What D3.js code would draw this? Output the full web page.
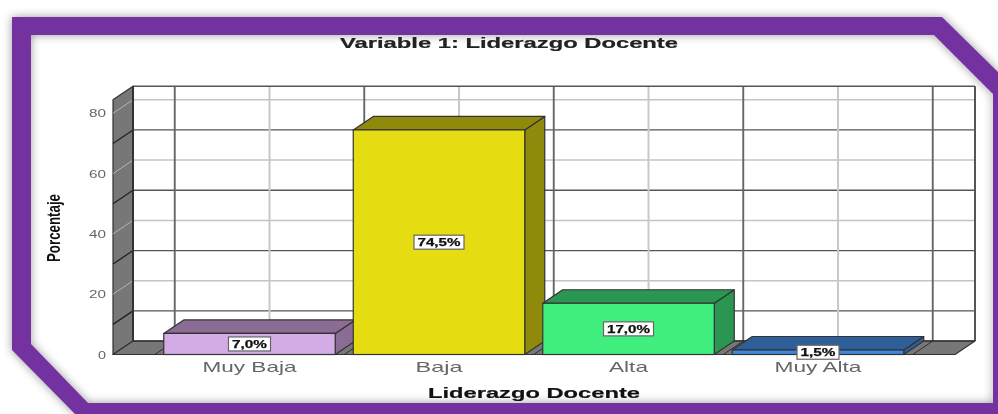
<!DOCTYPE html>
<html><head><meta charset="utf-8">
<script src="https://cdn.jsdelivr.net/npm/d3@7/dist/d3.min.js"></script>
<style>html,body{margin:0;padding:0;background:#fff;overflow:hidden}svg{display:block;filter:blur(.55px)}text{font-family:"Liberation Sans",Arial,sans-serif}</style>
</head><body><svg id="c" width="998" height="414"></svg>
<script>
const categories = ["Muy Baja", "Baja", "Alta", "Muy Alta"];
const values = [7.0, 74.5, 17.0, 1.5];
const valueLabels = ["7,0%", "74,5%", "17,0%", "1,5%"];
const frontColors = ["#D3ACE6", "#E5DC12", "#41EF7E", "#3F86DD"];
const shadeColors = ["#8A6C94", "#8F8A0B", "#2A9652", "#2F5F98"];
const yTicks = [0, 20, 40, 60, 80];
const gridMajor = [10, 30, 50, 70];
const gridMinor = [20, 40, 60, 80];
const title = "Variable 1: Liderazgo Docente";
const xTitle = "Liderazgo Docente";
const yTitle = "Porcentaje";
const tickWidths = [94, 47, 39, 87];

const svg = d3.select("#c");
const defs = svg.append("defs");
const fl = defs.append("filter").attr("id","sh").attr("x","-5%").attr("y","-10%").attr("width","110%").attr("height","120%");
fl.append("feDropShadow").attr("dx",0).attr("dy",0).attr("stdDeviation",5).attr("flood-color","#000").attr("flood-opacity",.4);

// frame
svg.append("path").attr("fill","#7331A0").attr("fill-rule","evenodd").attr("filter","url(#sh)")
  .attr("d","M12,17L942,17L998,72L998,414L75,414L12,350Z M31,35L934,35L993,94L993,403L88,403L31,344Z");

const DX = 20, DY = -13.5;
const y = d3.scaleLinear().domain([0, 80]).range([354.5, 113.3]);
const yMax = 84.5;
const x = d3.scaleBand().domain(categories).range([154.75, 912.75]).paddingInner(.095).paddingOuter(.0475);
const floorL = 113, floorR = 955;
const line = (g,x1,y1,x2,y2,c,w) => g.append("line").attr("x1",x1).attr("y1",y1).attr("x2",x2).attr("y2",y2).attr("stroke",c).attr("stroke-width",w);
const poly = (g,pts,f,s) => g.append("polygon").attr("points",pts.map(p=>p.join(",")).join(" ")).attr("fill",f).attr("stroke",s||"#333").attr("stroke-width",1.2).attr("stroke-linejoin","round");

const back = svg.append("g");
// back wall horizontal grid
gridMinor.forEach(v => line(back,floorL+DX,y(v)+DY,floorR+DX,y(v)+DY,"#c4c4c4",1.5));
gridMajor.forEach(v => line(back,floorL+DX,y(v)+DY,floorR+DX,y(v)+DY,"#555",1.3));
// back wall vertical grid
const step = x.step();
const x0 = x.range()[0];
categories.forEach((c,i) => line(back,x0+step*(i+.5)+DX,y(yMax)+DY,x0+step*(i+.5)+DX,y(0)+DY,"#c8c8c8",2));
d3.range(categories.length+1).forEach(i => line(back,x0+step*i+DX,y(yMax)+DY,x0+step*i+DX,y(0)+DY,"#666",1.9));
// outline of back wall
line(back,floorL+DX,y(yMax)+DY,floorR+DX,y(yMax)+DY,"#555",1.5);
line(back,floorR+DX,y(yMax)+DY,floorR+DX,y(0)+DY,"#555",2);
// left wall
poly(back,[[floorL,y(yMax)],[floorL+DX,y(yMax)+DY],[floorL+DX,y(0)+DY],[floorL,y(0)]],"#777");
gridMinor.forEach(v => line(back,floorL,y(v),floorL+DX,y(v)+DY,"#b5b5b5",1));
gridMajor.forEach(v => line(back,floorL,y(v),floorL+DX,y(v)+DY,"#222",1.3));
line(back,floorL+DX,y(yMax)+DY,floorL+DX,y(0)+DY,"#333",2);
// floor
poly(back,[[floorL,y(0)],[floorL+DX,y(0)+DY],[floorR+DX,y(0)+DY],[floorR,y(0)]],"#777");
line(back,floorL+DX,y(0)+DY,floorR+DX,y(0)+DY,"#333",1.6);
d3.range(categories.length+1).forEach(i => line(back,x0+step*i,y(0),x0+step*i+DX,y(0)+DY,"#2e2e2e",1));
categories.forEach((c,i) => line(back,x0+step*(i+.5),y(0),x0+step*(i+.5)+DX,y(0)+DY,"#b5b5b5",1));

// bars
const bars = svg.append("g");
categories.forEach((c,i) => {
  const l = x(c), r = l + x.bandwidth(), t = y(values[i]), b = y(0);
  poly(bars,[[r,b],[r+DX,b+DY],[r+DX,t+DY],[r,t]],shadeColors[i]);
  poly(bars,[[l,t],[l+DX,t+DY],[r+DX,t+DY],[r,t]],shadeColors[i]);
  bars.append("rect").attr("x",l).attr("y",t).attr("width",x.bandwidth()).attr("height",b-t)
    .attr("fill",frontColors[i]).attr("stroke","#333").attr("stroke-width",1.2);
});

// y axis
const ya = svg.append("g").attr("transform","translate(106,0)")
  .call(d3.axisLeft(y).tickValues(yTicks).tickSize(0).tickPadding(0));
ya.select(".domain").remove();
ya.selectAll("text").attr("font-size",11.5).attr("fill","#666").style("font-family",'"Liberation Sans",Arial,sans-serif')
  .attr("textLength",17).attr("lengthAdjust","spacingAndGlyphs");
ya.selectAll("text").filter(d=>d===0).attr("textLength",8);

// x axis
const xa = svg.append("g").attr("transform","translate(0,358)")
  .call(d3.axisBottom(x).tickSize(0).tickPadding(3));
xa.select(".domain").remove();
xa.selectAll("text").attr("font-size",15).attr("fill","#666").style("font-family",'"Liberation Sans",Arial,sans-serif')
  .attr("textLength",(d,i)=>tickWidths[i]).attr("lengthAdjust","spacingAndGlyphs");

// value labels
categories.forEach((c,i) => {
  const cx = x(c)+x.bandwidth()/2, cy = (y(values[i])+y(0))/2;
  const long = valueLabels[i].length > 4;
  const w = long ? 50 : 42;
  svg.append("rect").attr("x",cx-w/2).attr("y",cy-7).attr("width",w).attr("height",14)
    .attr("fill","#fff").attr("stroke","#666").attr("stroke-width",1.2);
  svg.append("text").attr("x",cx).attr("y",cy+4).attr("text-anchor","middle")
    .attr("font-size",10.5).attr("font-weight","bold").attr("fill","#111").attr("stroke","#111").attr("stroke-width",.25)
    .attr("textLength",long?43:35).attr("lengthAdjust","spacingAndGlyphs").text(valueLabels[i]);
});

svg.append("text").attr("x",509).attr("y",48).attr("text-anchor","middle").attr("font-size",14.5).attr("font-weight","bold").attr("fill","#222").attr("stroke","#222").attr("stroke-width",.2)
  .attr("textLength",338).attr("lengthAdjust","spacingAndGlyphs").text(title);
svg.append("text").attr("x",534).attr("y",398).attr("text-anchor","middle").attr("font-size",15).attr("font-weight","bold").attr("fill","#111").attr("stroke","#111").attr("stroke-width",.2)
  .attr("textLength",212).attr("lengthAdjust","spacingAndGlyphs").text(xTitle);
svg.append("text").attr("transform","translate(60,228) rotate(-90)").attr("text-anchor","middle").attr("font-size",18).attr("font-weight","bold").attr("fill","#111")
  .attr("textLength",68).attr("lengthAdjust","spacingAndGlyphs").text(yTitle);
</script></body></html>
